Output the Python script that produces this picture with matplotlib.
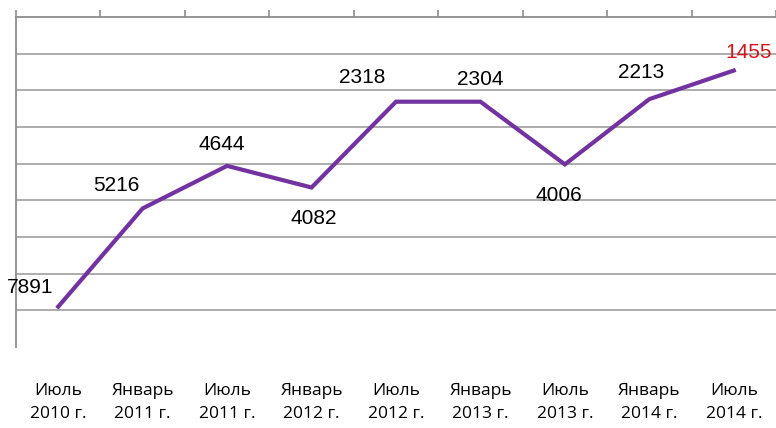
import matplotlib
matplotlib.use("Agg")
import matplotlib.pyplot as plt
from matplotlib.ticker import FixedLocator

categories = ["Июль\n2010 г.", "Январь\n2011 г.", "Июль\n2011 г.", "Январь\n2012 г.",
              "Июль\n2012 г.", "Январь\n2013 г.", "Июль\n2013 г.", "Январь\n2014 г.", "Июль\n2014 г."]
positions = [1.10, 3.78, 4.94, 4.35, 6.69, 6.69, 4.98, 6.76, 7.54]
labels = ["7891", "5216", "4644", "4082", "2318", "2304", "4006", "2213", "1455"]
label_offsets_px = [(-28, -19), (-26, -23), (-5, -21), (2, 31), (-34, -24),
                    (0, -22), (-6, 31), (-8, -27), (15, -18)]
label_colors = ["black"] * 8 + ["#d0161c"]

W, H = 776, 428
fig = plt.figure(figsize=(W / 100, H / 100), dpi=100)
ax = fig.add_axes([16 / W, 1 - 347 / H, 760 / W, 330 / H])

x = list(range(len(categories)))
ax.plot(x, positions, color="#7232a0", lw=3.0, solid_joinstyle="miter", zorder=3, clip_on=False)

ax.set_xlim(-0.5, len(categories) - 0.5)
ax.set_ylim(0, 9)

grid_col = "#a6a6a6"
for g in range(1, 9):
    ax.axhline(g, color=grid_col, lw=1.3, zorder=1)

for s in ["bottom", "right"]:
    ax.spines[s].set_visible(False)
ax.spines["top"].set_color("#8c8c8c")
ax.spines["top"].set_linewidth(1.3)
ax.spines["left"].set_color("#8c8c8c")
ax.spines["left"].set_linewidth(1.3)

ax.set_yticks([])
ax.xaxis.set_major_locator(FixedLocator(x))
ax.set_xticks(x)
ax.set_xticklabels(categories, fontsize=12.5, family=["Open Sans", "DejaVu Sans"], linespacing=1.55)
ax.tick_params(axis="x", which="major", bottom=True, top=False, length=0, pad=26)
ax.xaxis.set_minor_locator(FixedLocator([i - 0.5 for i in range(len(categories) + 1)]))
ax.tick_params(axis="x", which="minor", top=True, bottom=False, direction="out",
               length=5, width=1.2, color="#8c8c8c")

for xi, yi, lab, (dx, dy), c in zip(x, positions, labels, label_offsets_px, label_colors):
    ax.annotate(lab, (xi, yi), xytext=(dx * 0.72, -dy * 0.72), textcoords="offset points",
                ha="center", va="center", fontsize=15, color=c,
                family=["Liberation Sans", "DejaVu Sans"], zorder=4, annotation_clip=False)

fig.savefig("out.png", dpi=100, facecolor="white")
